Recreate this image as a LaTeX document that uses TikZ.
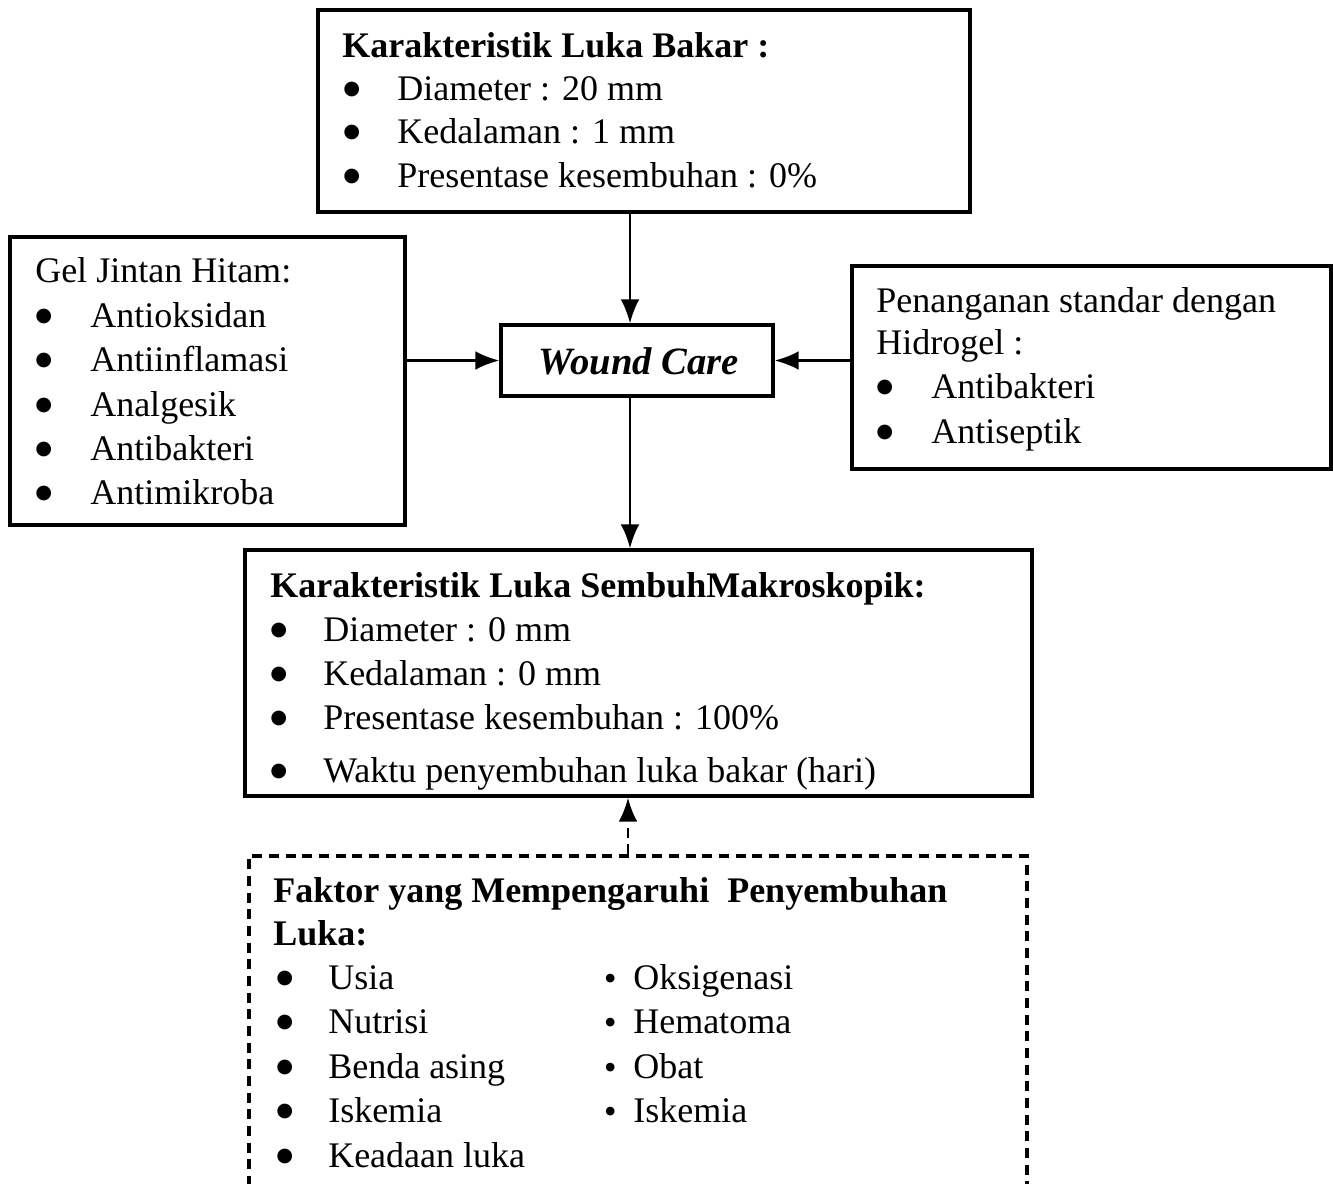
\documentclass[tikz,border=0pt]{standalone}
\usepackage{fontspec}
\setmainfont{Liberation Serif}
\newfontfamily\dejavu{DejaVu Sans}
\usetikzlibrary{arrows.meta,fit}
\tikzset{
  box/.style={draw, line width=2.3pt, inner sep=0pt},
  dbox/.style={draw, line width=2.3pt, inner sep=0pt, dash pattern=on 7.5pt off 5pt},
  txt/.style={anchor=base west, inner sep=0pt, font=\fontsize{27}{32}\selectfont},
  hdr/.style={txt, font=\fontsize{27}{32}\selectfont\bfseries},
  bul/.style={anchor=base west, inner sep=0pt, font=\dejavu\fontsize{14.5}{16}\selectfont},
  sbul/.style={anchor=base west, inner sep=0pt, font=\dejavu\fontsize{8.5}{10}\selectfont},
  arr/.style={line width=2pt, -{Latex[length=18pt,width=14pt]}},
  darr/.style={arr, dash pattern=on 7.5pt off 5pt}
}
\begin{document}
\begin{tikzpicture}[x=0.75pt,y=-0.75pt]
\clip (0,0) rectangle (1333,1183);
\fill[white] (0,0) rectangle (1333,1183);

% boxes
\coordinate (tl1) at (318,10);  \coordinate (br1) at (970,212);
\node[box, fit=(tl1)(br1)] (top) {};
\coordinate (tl2) at (10,237);  \coordinate (br2) at (405,525);
\node[box, fit=(tl2)(br2)] (left) {};
\coordinate (tl3) at (501,325); \coordinate (br3) at (773,396);
\node[box, fit=(tl3)(br3)] (wc) {};
\node[font=\fontsize{29}{32}\selectfont\bfseries\itshape] (wct) at (639,361) {Wound Care};
\coordinate (tl4) at (852,266); \coordinate (br4) at (1331,469);
\node[box, fit=(tl4)(br4)] (right) {};
\coordinate (tl5) at (245,550); \coordinate (br5) at (1032,796);
\node[box, fit=(tl5)(br5)] (mid) {};
\coordinate (tl6) at (249,856); \coordinate (br6) at (1027,1230);
\node[dbox, fit=(tl6)(br6)] (bot) {};

% connectors
\coordinate (ax) at (630,0);
\coordinate (axd) at (628,0);
\draw[arr] (top.south -| ax) -- (wc.north -| ax);
\draw[arr] (left.east |- wc.west) -- (wc.west);
\draw[arr] (right.west |- wc.east) -- (wc.east);
\draw[arr] (wc.south -| ax) -- (mid.north -| ax);
\draw[darr] (bot.north -| axd) -- (mid.south -| axd);

% top box text
\node[hdr] (t0) at (342,57) {Karakteristik Luka Bakar :};
\node[bul] (tb1) at (343,94) {●}; \node[txt] (t1) at (397,100) {Diameter : 20 mm};
\node[bul] (tb2) at (343,137) {●}; \node[txt] (t2) at (397,143) {Kedalaman : 1 mm};
\node[bul] (tb3) at (343,181) {●}; \node[txt] (t3) at (397,187) {Presentase kesembuhan : 0\%};

% left box text
\node[txt] (l0) at (35,282) {Gel Jintan Hitam:};
\node[bul] (lb1) at (35,321) {●}; \node[txt] (l1) at (90,327) {Antioksidan};
\node[bul] (lb2) at (35,365) {●}; \node[txt] (l2) at (90,371) {Antiinflamasi};
\node[bul] (lb3) at (35,410) {●}; \node[txt] (l3) at (90,416) {Analgesik};
\node[bul] (lb4) at (35,454) {●}; \node[txt] (l4) at (90,460) {Antibakteri};
\node[bul] (lb5) at (35,498) {●}; \node[txt] (l5) at (90,504) {Antimikroba};

% right box text
\node[txt] (r0) at (876,312) {Penanganan standar dengan};
\node[txt] (r1) at (876,354) {Hidrogel :};
\node[bul] (rb2) at (876,392) {●}; \node[txt] (r2) at (931,398) {Antibakteri};
\node[bul] (rb3) at (876,437) {●}; \node[txt] (r3) at (931,443) {Antiseptik};

% middle box text
\node[hdr] (m0) at (270,597) {Karakteristik Luka SembuhMakroskopik:};
\node[bul] (mb1) at (270,635) {●}; \node[txt] (m1) at (323,641) {Diameter : 0 mm};
\node[bul] (mb2) at (270,679) {●}; \node[txt] (m2) at (323,685) {Kedalaman : 0 mm};
\node[bul] (mb3) at (270,723) {●}; \node[txt] (m3) at (323,729) {Presentase kesembuhan : 100\%};
\node[bul] (mb4) at (270,776) {●}; \node[txt] (m4) at (323,782) {Waktu penyembuhan luka bakar (hari)};

% bottom box text
\node[hdr] (b0) at (273,902) {Faktor yang Mempengaruhi\ \ Penyembuhan};
\node[hdr] (b1) at (273,945) {Luka:};
\node[bul] (bb1) at (276,983) {●};  \node[txt] (b2) at (328,989) {Usia};
\node[bul] (bb2) at (276,1027) {●}; \node[txt] (b3) at (328,1033) {Nutrisi};
\node[bul] (bb3) at (276,1072) {●}; \node[txt] (b4) at (328,1078) {Benda asing};
\node[bul] (bb4) at (276,1116) {●}; \node[txt] (b5) at (328,1122) {Iskemia};
\node[bul] (bb5) at (276,1161) {●}; \node[txt] (b6) at (328,1167) {Keadaan luka};
\node[sbul] (cb1) at (605,981) {●};  \node[txt] (c1) at (633,989) {Oksigenasi};
\node[sbul] (cb2) at (605,1025) {●}; \node[txt] (c2) at (633,1033) {Hematoma};
\node[sbul] (cb3) at (605,1070) {●}; \node[txt] (c3) at (633,1078) {Obat};
\node[sbul] (cb4) at (605,1114) {●}; \node[txt] (c4) at (633,1122) {Iskemia};
\end{tikzpicture}
\end{document}
